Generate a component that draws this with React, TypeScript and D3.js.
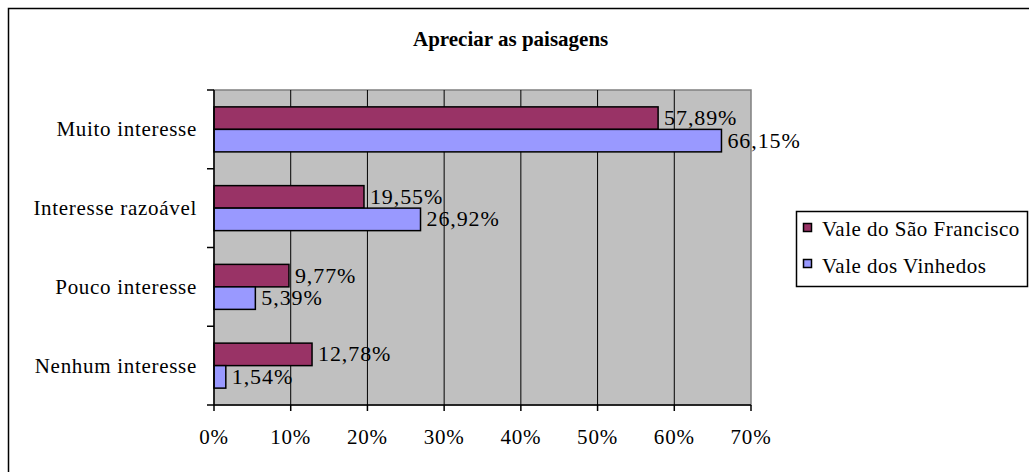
import React from "react";
import * as d3 from "d3";

const categories = ["Muito interesse", "Interesse razoável", "Pouco interesse", "Nenhum interesse"];
const seriesNames = ["Vale do São Francisco", "Vale dos Vinhedos"];
const valeSaoFrancisco = [57.89, 19.55, 9.77, 12.78];
const valeVinhedos = [66.15, 26.92, 5.39, 1.54];
const xTicks = [0, 10, 20, 30, 40, 50, 60, 70];
const colors = ["#993366", "#9999FF"];
const title = "Apreciar as paisagens";

const fmt = (v: number) => v.toFixed(2).replace(".", ",") + "%";

export default function App() {
  const W = 1029, H = 472;
  const left = 214, right = 751, top = 90, bottom = 405;
  const x = d3.scaleLinear().domain([0, 70]).range([left, right]);
  const y = d3.scaleBand<string>().domain(categories).range([top, bottom]).paddingInner(0).paddingOuter(0);
  const bw = y.bandwidth();
  const barH = bw / 3.5;
  const series = [valeSaoFrancisco, valeVinhedos];
  const ff = (ls: number) => ({ fontFamily: "Liberation Serif", letterSpacing: ls + "px" });

  return (
    <svg width={W} height={H} style={{ position: "absolute", left: 0, top: 0, overflow: "hidden", background: "#fff" }}>
      <rect x={8.5} y={8.5} width={1100} height={600} fill="#fff" stroke="#000" strokeWidth={1.5} />
      <text x={413} y={46} fontSize={21} fontWeight="bold" style={ff(0)}>{title}</text>
      <rect x={left} y={top} width={right - left} height={bottom - top} fill="#C0C0C0" stroke="#808080" strokeWidth={1.5} />
      {xTicks.slice(1, -1).map((t) => (
        <line key={t} x1={x(t)} x2={x(t)} y1={top} y2={bottom} stroke="#000" strokeWidth={1} />
      ))}
      {categories.map((c, ci) =>
        series.map((s, si) => {
          const yy = (y(c) as number) + (bw - 2 * barH) / 2 + si * barH;
          return (
            <g key={c + si}>
              <rect x={x(0)} y={yy} width={x(s[ci]) - x(0)} height={barH} fill={colors[si]} stroke="#000" strokeWidth={1.5} />
              <text x={x(s[ci]) + 6} y={yy + barH / 2 + 7} fontSize={22} style={ff(0.9)}>{fmt(s[ci])}</text>
            </g>
          );
        })
      )}
      <line x1={left} x2={left} y1={top} y2={bottom} stroke="#000" strokeWidth={1.5} />
      <line x1={left} x2={right} y1={bottom} y2={bottom} stroke="#000" strokeWidth={1.5} />
      {[...categories.map((c) => y(c) as number), bottom].map((v, i) => (
        <line key={i} x1={left - 7} x2={left} y1={v} y2={v} stroke="#000" strokeWidth={1.5} />
      ))}
      {xTicks.map((t) => (
        <g key={t}>
          <line x1={x(t)} x2={x(t)} y1={bottom} y2={bottom + 6} stroke="#000" strokeWidth={1.5} />
          <text x={x(t)} y={444} fontSize={21} textAnchor="middle" style={ff(0.8)}>{t + "%"}</text>
        </g>
      ))}
      {categories.map((c) => (
        <text key={c} x={197} y={(y(c) as number) + bw / 2 + 7} fontSize={21} textAnchor="end" style={ff(0.7)}>{c}</text>
      ))}
      <rect x={796.5} y={211.5} width={231} height={75} fill="#fff" stroke="#000" strokeWidth={1.5} />
      {seriesNames.map((n, i) => (
        <g key={n}>
          <rect x={803.5} y={223.5 + i * 36} width={8} height={8} fill={colors[i]} stroke="#000" strokeWidth={1.5} />
          <text x={822} y={236 + i * 37} fontSize={21} style={ff(0.5)}>{n}</text>
        </g>
      ))}
    </svg>
  );
}
